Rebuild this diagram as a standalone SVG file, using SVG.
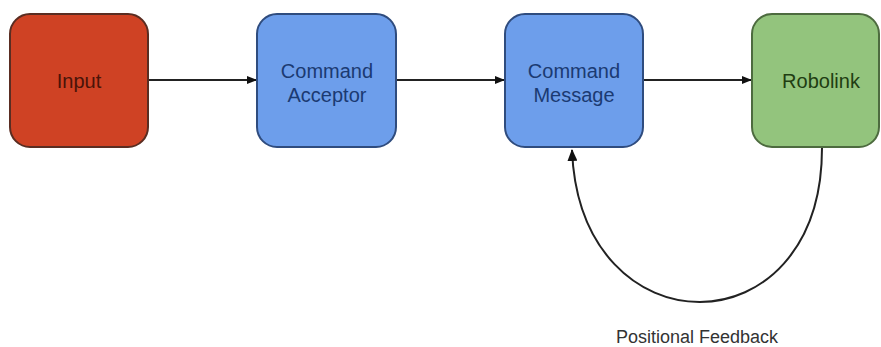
<svg xmlns="http://www.w3.org/2000/svg" width="881" height="347" viewBox="0 0 881 347">
<defs>
<style>
.box{stroke-width:2}
.lbl{font-family:"Liberation Sans",Arial,sans-serif;font-size:20px;text-anchor:middle}
.conn{fill:none;stroke:#222;stroke-width:2}
</style>
<marker id="ah" markerWidth="10" markerHeight="8" refX="9" refY="4" orient="auto" markerUnits="userSpaceOnUse">
<path d="M0,0 L10,4 L0,8 Z" fill="#111"/>
</marker>
<marker id="ah2" markerWidth="12" markerHeight="10" refX="11" refY="5" orient="auto" markerUnits="userSpaceOnUse">
<path d="M0,0 L12,5 L0,10 Z" fill="#111"/>
</marker>
</defs>
<rect width="881" height="347" fill="#fff"/>
<g id="connectors">
<line class="conn" x1="149" y1="80" x2="256" y2="80" marker-end="url(#ah)"/>
<line class="conn" x1="397" y1="80" x2="504" y2="80" marker-end="url(#ah)"/>
<line class="conn" x1="644" y1="80" x2="751" y2="80" marker-end="url(#ah)"/>
<path class="conn" d="M822,148 C822,353 580,353 572,150" marker-end="url(#ah2)"/>
<text x="697" y="343" font-family="'Liberation Sans',Arial,sans-serif" font-size="18" fill="#333" text-anchor="middle">Positional Feedback</text>
</g>
<g id="input">
<rect class="box" x="10" y="14" width="138" height="133" rx="20" fill="#cf4224" stroke="#5a2d22"/>
<text class="lbl" x="79" y="88" fill="#4a1409">Input</text>
</g>
<g id="command-acceptor">
<rect class="box" x="257" y="14" width="139" height="133" rx="20" fill="#6d9eeb" stroke="#2f4c7e"/>
<text class="lbl" x="327" y="78" fill="#1b3a72">Command</text>
<text class="lbl" x="327" y="102" fill="#1b3a72">Acceptor</text>
</g>
<g id="command-message">
<rect class="box" x="505" y="14" width="138" height="133" rx="20" fill="#6d9eeb" stroke="#2f4c7e"/>
<text class="lbl" x="574" y="78" fill="#1b3a72">Command</text>
<text class="lbl" x="574" y="102" fill="#1b3a72">Message</text>
</g>
<g id="robolink">
<rect class="box" x="752" y="14" width="127" height="133" rx="20" fill="#93c47d" stroke="#4d6b3f"/>
<text class="lbl" x="821" y="88" fill="#1f3d12">Robolink</text>
</g>
</svg>
